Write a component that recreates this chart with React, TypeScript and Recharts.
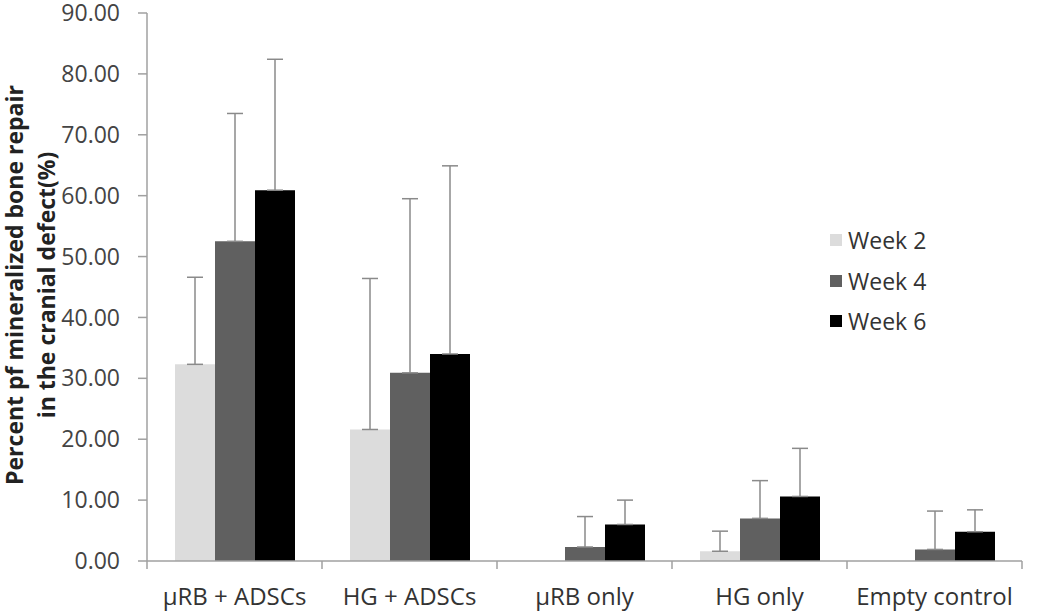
import { BarChart, Bar, XAxis, YAxis, ErrorBar, Legend } from "recharts";

const groups = ["µRB + ADSCs", "HG + ADSCs", "µRB only", "HG only", "Empty control"];
const week2 = [32.3, 21.6, 0, 1.6, 0];
const week4 = [52.5, 30.9, 2.3, 7.0, 1.9];
const week6 = [60.9, 34.0, 6.0, 10.6, 4.8];
const week2Err = [14.3, 24.8, 2.9, 3.3, 5.7];
const week4Err = [21.0, 28.6, 5.0, 6.2, 6.3];
const week6Err = [21.5, 30.9, 4.0, 7.9, 3.6];
const yTicks = [0, 10, 20, 30, 40, 50, 60, 70, 80, 90];

const series = [
  { key: "w2", name: "Week 2", color: "#dcdcdc" },
  { key: "w4", name: "Week 4", color: "#606060" },
  { key: "w6", name: "Week 6", color: "#000000" },
];

// plus-only error bars
const data = groups.map((g, i) => ({
  group: g,
  w2: week2[i],
  w4: week4[i],
  w6: week6[i],
  w2e: [0, week2Err[i]],
  w4e: [0, week4Err[i]],
  w6e: [0, week6Err[i]],
}));

const font = "'Open Sans', sans-serif";
const textColor = "#333";
const axisColor = "#a0a0a0";

// two-line rotated axis title, centred on the plot's middle
function YLabel() {
  return (
    <text
      transform="rotate(-90, 6, 285)"
      x={6}
      y={285}
      textAnchor="middle"
      fontFamily={font}
      fontSize={23}
      fontWeight="bold"
      fill="#222"
    >
      <tspan x={6} dy={17}>Percent pf mineralized bone repair</tspan>
      <tspan x={6} dy={32}>in the cranial defect(%)</tspan>
    </text>
  );
}

// category label, plus Excel-style tick marks between the groups
function GroupTick(props: any) {
  const { x, y, payload, index, visibleTicksCount } = props;
  const half = payload.offset ?? 0;
  const last = index === visibleTicksCount - 1;
  return (
    <g>
      <line x1={x - half} x2={x - half} y1={y} y2={y + 8} stroke={axisColor} strokeWidth={1.5} />
      {last && <line x1={x + half} x2={x + half} y1={y} y2={y + 8} stroke={axisColor} strokeWidth={1.5} />}
      <text x={x} y={y + 27} dy="0.71em" textAnchor="middle" fontFamily={font} fontSize={24} fill={textColor}>
        {payload.value}
      </text>
    </g>
  );
}

function LegendBox() {
  return (
    <div style={{ fontFamily: font, fontSize: 23, color: textColor }}>
      {series.map((s) => (
        <div key={s.key} style={{ display: "flex", alignItems: "center", height: 40.5 }}>
          <span style={{ width: 12, height: 12, background: s.color, marginRight: 6 }} />
          {s.name}
        </div>
      ))}
    </div>
  );
}

export default function App() {
  return (
    <div style={{ position: "absolute", left: 0, top: 0, background: "#fff" }}>
      <BarChart
        width={1050}
        height={612}
        data={data}
        margin={{ top: 13, right: 28, left: 0, bottom: 0 }}
        barCategoryGap="16%"
        barGap={0}
      >
        <XAxis
          dataKey="group"
          height={51}
          axisLine={{ stroke: axisColor, strokeWidth: 1.5 }}
          tickLine={false}
          tickSize={0}
          tickMargin={0}
          tick={<GroupTick />}
          interval={0}
        />
        <YAxis
          width={147}
          domain={[0, 90]}
          ticks={yTicks}
          tickFormatter={(v: number) => v.toFixed(2)}
          tick={{ fontFamily: font, fontSize: 23, fill: "#444" }}
          tickSize={9}
          tickMargin={18}
          axisLine={{ stroke: axisColor, strokeWidth: 1.5 }}
          tickLine={{ stroke: axisColor, strokeWidth: 1.5 }}
          label={{ content: <YLabel /> }}
        />
        <Legend
          layout="horizontal"
          verticalAlign="middle"
          align="center"
          wrapperStyle={{ left: 830, top: 220, width: 120 }}
          content={<LegendBox />}
        />
        {series.map((s) => (
          <Bar key={s.key} dataKey={s.key} name={s.name} fill={s.color} isAnimationActive={false}>
            <ErrorBar dataKey={`${s.key}e`} direction="y" width={8} stroke="#8a8a8a" strokeWidth={1.5} />
          </Bar>
        ))}
      </BarChart>
    </div>
  );
}
